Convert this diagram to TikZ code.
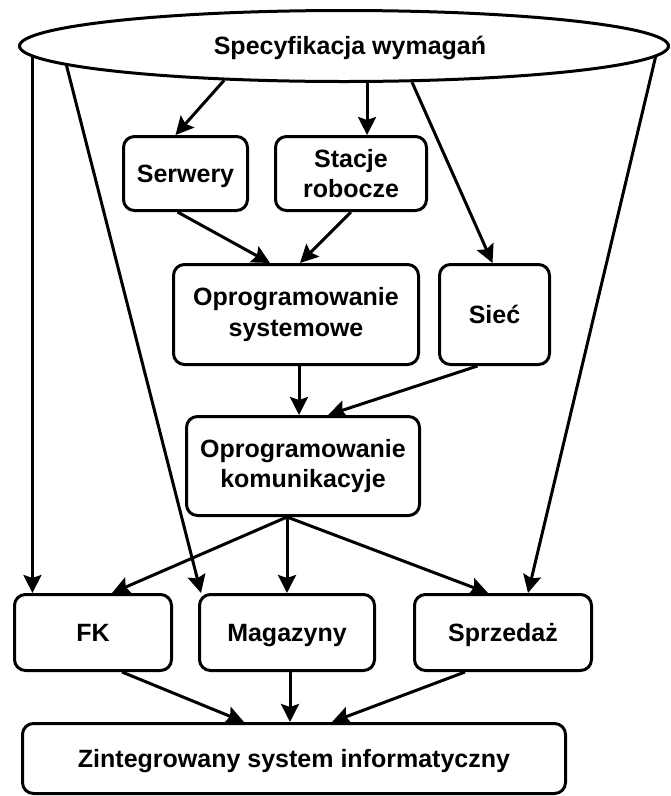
\documentclass[tikz,border=0pt]{standalone}
\usepackage{fontspec}
\setmainfont{Liberation Sans}
\usetikzlibrary{arrows.meta,shapes.geometric}
\begin{document}
\begin{tikzpicture}[x=1pt,y=-1pt,
  every node/.style={font=\fontsize{25}{30.5}\selectfont\bfseries, align=center},
  box/.style={draw, line width=3pt, rounded corners=11pt, inner sep=0pt},
  oneline/.style={text height=17.9pt, text depth=0pt},
  arr/.style={line width=3pt, -{Stealth[length=18pt,width=18pt,inset=3pt]}}
]
\useasboundingbox (0,0) rectangle (671,796);

% top-level requirement node
\node[draw, ellipse, line width=3pt, minimum width=649pt, minimum height=71pt,
      inner sep=0pt, oneline] (spec) at (344,46) {\hspace*{12pt}Specyfikacja wymagań};

% hardware layer
\node[box, oneline, minimum width=124pt, minimum height=74pt] (serw) at (185.5,173.5) {Serwery};
\node[box, minimum width=151pt, minimum height=74pt] (stac) at (351,173.5) {Stacje\\robocze};

% system software and network
\node[box, minimum width=245pt, minimum height=100pt] (os) at (296,314.5) {Oprogramowanie\\systemowe};
\node[box, oneline, minimum width=110pt, minimum height=100pt] (siec) at (494.5,314.5) {Sieć};

% communication software
\node[box, minimum width=233pt, minimum height=99pt] (ok) at (303,466) {Oprogramowanie\\komunikacyje};

% application modules
\node[box, oneline, minimum width=157pt, minimum height=76pt] (fk) at (93,632.5) {FK};
\node[box, oneline, minimum width=175pt, minimum height=76pt] (mag) at (287,632.5) {Magazyny};
\node[box, oneline, minimum width=177pt, minimum height=76pt] (sprz) at (503,632.5) {Sprzedaż};

% integrated result
\node[box, oneline, minimum width=543pt, minimum height=70pt] (zint) at (294,758.5) {Zintegrowany system informatyczny};

% connectors from the specification
\draw[arr] (spec.182.6) -- (spec.182.6 |- fk.north);
\draw[arr] (spec.184.35) -- ([xshift=3pt]mag.north west);
\draw[arr] (spec.196.6) -- ([xshift=-10pt]serw.north);
\draw[arr] (spec.-58) -- (spec.-58 |- stac.north);
\draw[arr] (spec.-28.4) -- ([xshift=-2pt]siec.north);
\draw[arr] (spec.-2.54) -- ([xshift=25pt]sprz.north);

% hardware to system software
\draw[arr] ([xshift=-8pt]serw.south) -- ([xshift=-26pt]os.north);
\draw[arr] (stac.south) -- ([xshift=4pt]os.north);

% into communication software
\draw[arr] ([xshift=3pt]os.south) -- ([xshift=3pt]os.south |- ok.north);
\draw[arr] ([xshift=-17pt]siec.south) -- ([xshift=25pt]ok.north);

% communication software to modules
\draw[arr] ([xshift=-16pt]ok.south) -- ([xshift=19pt]fk.north);
\draw[arr] ([xshift=-16pt]ok.south) -- (mag.north);
\draw[arr] ([xshift=-16pt]ok.south) -- ([xshift=-15pt]sprz.north);

% modules to the integrated system
\draw[arr] ([xshift=29pt]fk.south) -- ([xshift=-50pt]zint.north);
\draw[arr] ([xshift=3pt]mag.south) -- ([xshift=3pt]mag.south |- zint.north);
\draw[arr] ([xshift=-38pt]sprz.south) -- ([xshift=38pt]zint.north);
\end{tikzpicture}
\end{document}
